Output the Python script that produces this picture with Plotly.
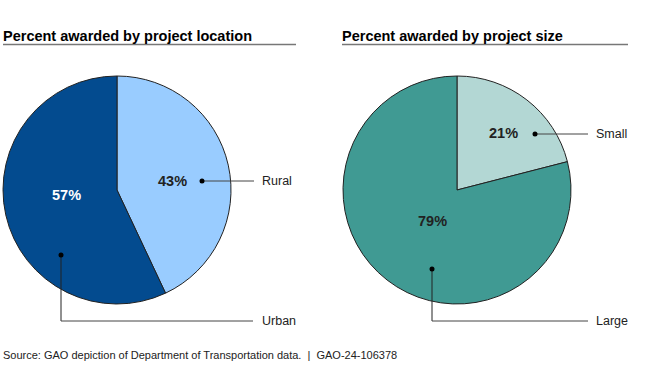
import plotly.graph_objects as go

W, H = 650, 365

loc_labels = ["Rural", "Urban"]
loc_values = [43, 57]
loc_colors = ["#99CCFF", "#034B8F"]

size_labels = ["Small", "Large"]
size_values = [21, 79]
size_colors = ["#B3D7D4", "#409A93"]

def px(x):
    return x / W

def py(y):
    return 1 - y / H

fig = go.Figure()

fig.add_trace(go.Pie(
    labels=loc_labels, values=loc_values, sort=False, direction="clockwise",
    rotation=0, textinfo="none", hoverinfo="label+percent",
    marker=dict(colors=loc_colors, line=dict(color="#222222", width=1)),
    domain=dict(x=[px(3), px(231)], y=[py(304), py(76)]),
    showlegend=False,
))
fig.add_trace(go.Pie(
    labels=size_labels, values=size_values, sort=False, direction="clockwise",
    rotation=0, textinfo="none", hoverinfo="label+percent",
    marker=dict(colors=size_colors, line=dict(color="#222222", width=1)),
    domain=dict(x=[px(343), px(571)], y=[py(304), py(76)]),
    showlegend=False,
))

shapes = []
annotations = []

FONT = "Liberation Sans, Arial"

def title(x0, x1, text):
    annotations.append(dict(x=px(x0 - 2), y=py(36), xref="paper", yref="paper",
                            text=f"<b>{text}</b>", showarrow=False, xanchor="left",
                            yanchor="middle",
                            font=dict(family=FONT, size=14.5, color="#000000")))
    shapes.append(dict(type="line", xref="paper", yref="paper",
                       x0=px(x0), x1=px(x1), y0=py(44.5), y1=py(44.5),
                       line=dict(color="#777777", width=1.5)))

title(3, 296, "Percent awarded by project location")
title(342, 628, "Percent awarded by project size")

def pct(x, y, v, color):
    annotations.append(dict(x=px(x), y=py(y), xref="paper", yref="paper",
                            text=f"<b>{v}%</b>", showarrow=False, xanchor="center",
                            yanchor="middle",
                            font=dict(family=FONT, size=14.5, color=color)))

pct(66, 195, loc_values[1], "#FFFFFF")
pct(172, 181, loc_values[0], "#222222")
pct(432, 221, size_values[1], "#222222")
pct(504, 133, size_values[0], "#222222")

def dot(x, y):
    r = 2.5
    shapes.append(dict(type="circle", xref="paper", yref="paper",
                       x0=px(x - r), x1=px(x + r), y0=py(y + r), y1=py(y - r),
                       fillcolor="#000000", line=dict(color="#000000", width=0)))

def seg(x0, y0, x1, y1, color="#444444"):
    shapes.append(dict(type="line", xref="paper", yref="paper",
                       x0=px(x0), x1=px(x1), y0=py(y0), y1=py(y1),
                       line=dict(color=color, width=1)))

def label(x, y, text):
    annotations.append(dict(x=px(x), y=py(y), xref="paper", yref="paper",
                            text=text, showarrow=False, xanchor="left", yanchor="middle",
                            font=dict(family=FONT, size=12.5, color="#222222")))

# Rural
seg(202, 181, 254, 181)
dot(202, 181)
label(260, 181, loc_labels[0])
# Urban
seg(61, 255, 61, 321, "#222222")
seg(61, 321, 253, 321)
dot(61, 255)
label(260, 321, loc_labels[1])
# Small
seg(535, 134, 588, 134)
dot(535, 134)
label(594, 134, size_labels[0])
# Large
seg(432, 269, 432, 321, "#222222")
seg(432, 321, 588, 321)
dot(432, 269)
label(594, 321, size_labels[1])

annotations.append(dict(x=px(1), y=py(355), xref="paper", yref="paper",
                        text="Source: GAO depiction of Department of Transportation data.  |  GAO-24-106378",
                        showarrow=False, xanchor="left", yanchor="middle",
                        font=dict(family=FONT, size=11, color="#222222")))

fig.update_layout(
    width=W, height=H, margin=dict(l=0, r=0, t=0, b=0),
    paper_bgcolor="#FFFFFF", plot_bgcolor="#FFFFFF",
    shapes=shapes, annotations=annotations,
)

fig.write_html("out.html", config={"displayModeBar": False},
               post_script="document.body.style.margin='0';document.body.style.padding='0';")
